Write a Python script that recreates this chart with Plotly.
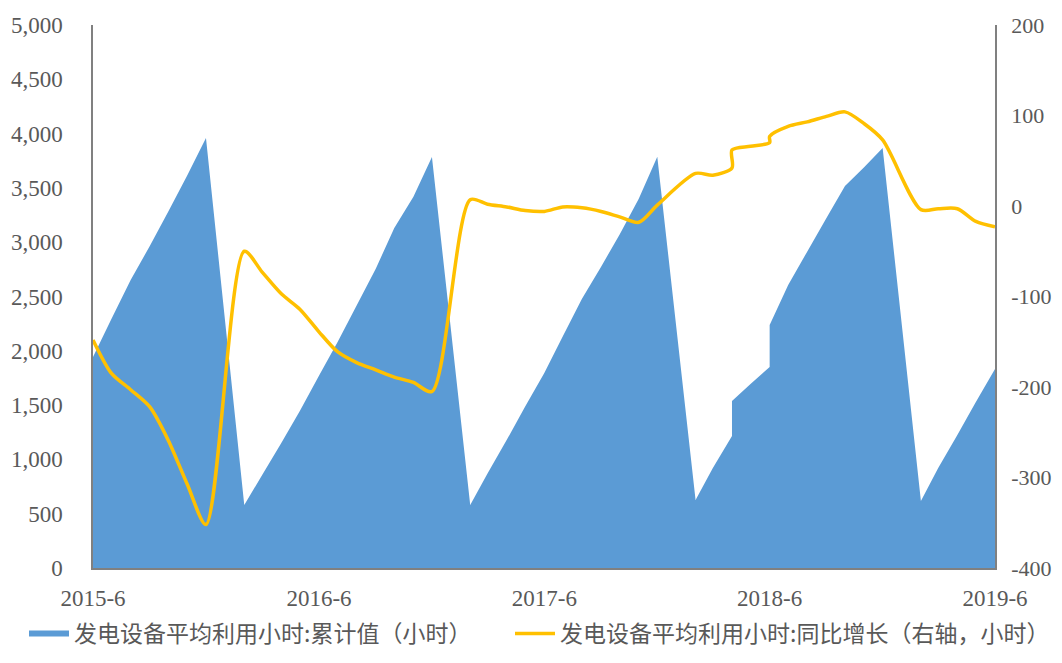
import plotly.graph_objects as go

# monthly dates (January missing; two readings at 2018-04 and 2018-06)
months = [
    "2015-06", "2015-07", "2015-08", "2015-09", "2015-10", "2015-11", "2015-12",
    "2016-02", "2016-03", "2016-04", "2016-05", "2016-06", "2016-07", "2016-08",
    "2016-09", "2016-10", "2016-11", "2016-12",
    "2017-02", "2017-03", "2017-04", "2017-05", "2017-06", "2017-07", "2017-08",
    "2017-09", "2017-10", "2017-11", "2017-12",
    "2018-02", "2018-03", "2018-04", "2018-04", "2018-05", "2018-06", "2018-06",
    "2018-07", "2018-08", "2018-09", "2018-10", "2018-11", "2018-12",
    "2019-02", "2019-03", "2019-04", "2019-05", "2019-06",
]

hours_cum = [
    1943, 2296, 2652, 2965, 3282, 3619, 3960,
    580, 856, 1151, 1446, 1770, 2079, 2417, 2756, 3130, 3418, 3785,
    580, 871, 1178, 1486, 1796, 2133, 2480, 2774, 3072, 3399, 3786,
    626, 920, 1215, 1538, 1695, 1851, 2237, 2606, 2915, 3223, 3517, 3690, 3867,
    617, 921, 1225, 1529, 1832,
]

hours_yoy = [
    -148, -185, -203, -222, -259, -308, -352,
    -50, -73, -97, -114, -139, -161, -173, -181, -189, -195, -205,
    7, 2, -1, -5, -6, -1, -2, -6, -12, -18, 1,
    36, 34, 42, 62, 66, 70, 77, 88, 93, 99, 104, 91, 73,
    -4, -3, -3, -17, -23,
]

x_tickvals = ["2015-06-01", "2016-06-01", "2017-06-01", "2018-06-01", "2019-06-01"]
x_ticktext = ["2015-6", "2016-6", "2017-6", "2018-6", "2019-6"]

y2_tickvals = [-400, -300, -200, -100, 0, 100, 200]
y2_ticktext = ["-400", "-300", "-200", "-100", "0", "100", "200"]

TICK_FONT = dict(family="Liberation Serif, Times New Roman, serif", size=23, color="#595959")
AXIS_COLOR = "#808080"
LEGEND_FONT = dict(family="Noto Sans CJK SC", size=23, color="#595959")

fig = go.Figure()
fig.add_trace(go.Scatter(
    x=months, y=hours_cum,
    name="发电设备平均利用小时:累计值（小时）",
    mode="none", fill="tozeroy", fillcolor="#5B9BD5",
    yaxis="y", legend="legend",
))
fig.add_trace(go.Scatter(
    x=months, y=hours_yoy,
    name="发电设备平均利用小时:同比增长（右轴，小时）",
    mode="lines", line=dict(color="#FFC000", width=3.5, shape="spline", smoothing=0.8),
    yaxis="y2", legend="legend2",
))

# the page body sits 8px in from the window edge, so the figure is 16px
# smaller than the window and the margins are set for that offset
W, H = 1046, 647
fig.update_layout(
    width=W, height=H,
    paper_bgcolor="white", plot_bgcolor="white",
    margin=dict(l=85, r=59, t=17, b=87, autoexpand=False),
    showlegend=True,
    legend=dict(
        orientation="h", xref="container", yref="container",
        x=16 / W, y=0, xanchor="left", yanchor="bottom",
        font=LEGEND_FONT, itemwidth=40, bgcolor="rgba(0,0,0,0)",
    ),
    legend2=dict(
        orientation="h", xref="container", yref="container",
        x=502 / W, y=0, xanchor="left", yanchor="bottom",
        font=LEGEND_FONT, itemwidth=40, bgcolor="rgba(0,0,0,0)",
    ),
    xaxis=dict(
        type="date", range=["2015-06-01", "2019-06-01"],
        tickvals=x_tickvals, ticktext=x_ticktext,
        showgrid=False, zeroline=False, automargin=False,
        showline=True, linecolor=AXIS_COLOR, linewidth=1.5,
        ticks="", tickfont=TICK_FONT, ticklabelstandoff=9,
    ),
    yaxis=dict(
        range=[0, 5000], dtick=500, tickformat=",d",
        showgrid=False, zeroline=False, automargin=False,
        showline=True, linecolor=AXIS_COLOR, linewidth=1.5,
        ticks="", tickfont=TICK_FONT, ticklabelstandoff=24,
    ),
    yaxis2=dict(
        range=[-400, 200], overlaying="y", side="right",
        tickvals=y2_tickvals, ticktext=y2_ticktext,
        showgrid=False, zeroline=False, automargin=False,
        showline=True, linecolor=AXIS_COLOR, linewidth=1.5,
        ticks="", tickfont=dict(TICK_FONT, size=22), ticklabelstandoff=10,
    ),
)

fig.write_html("out.html")
